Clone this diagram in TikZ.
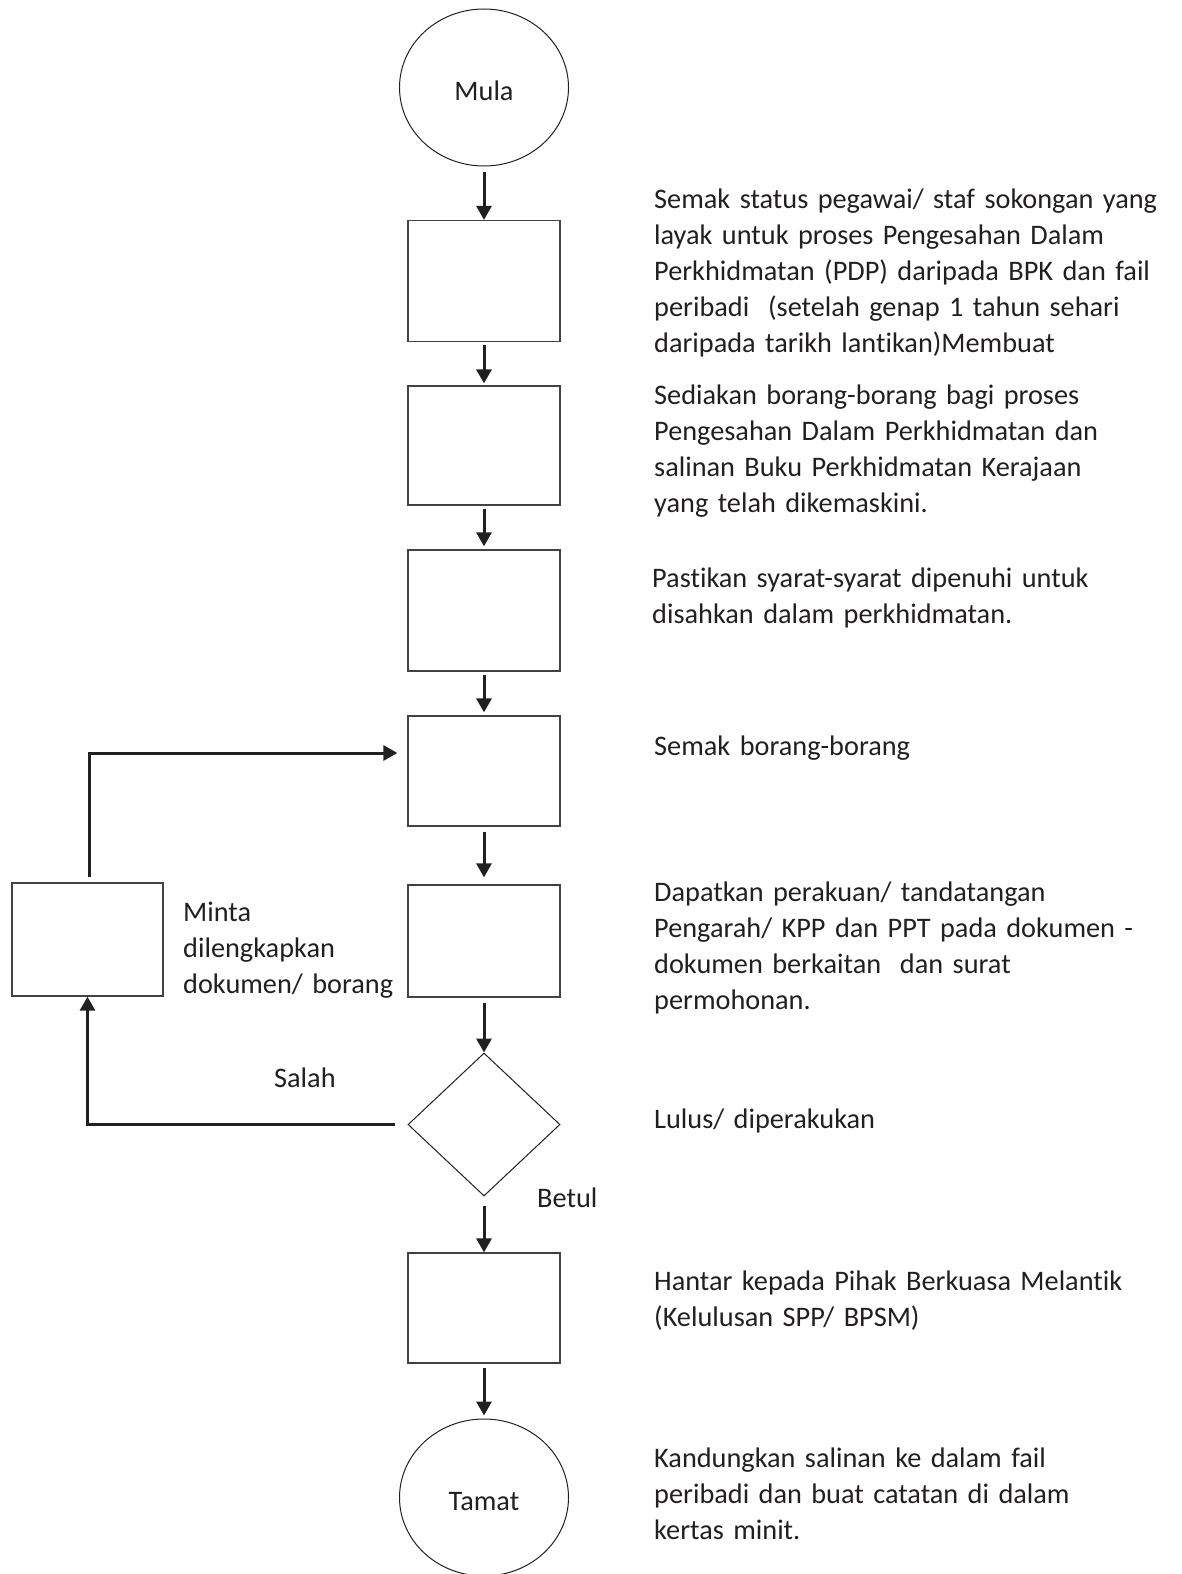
\documentclass[tikz,border=0pt]{standalone}
\usepackage{fontspec}
\setmainfont{Carlito}[Ligatures=CommonOff]
\usetikzlibrary{arrows.meta,shapes.geometric}
\definecolor{ink}{HTML}{231F20}
\begin{document}
\begin{tikzpicture}[x=1pt,y=-1pt,
  every node/.style={text=ink, font=\fontsize{28.3}{36}\selectfont},
  proc/.style={draw=ink!85, line width=1.3pt, minimum width=152pt, inner sep=0pt},
  term/.style={draw=ink, line width=1pt, ellipse, minimum width=169pt, minimum height=157pt, inner sep=0pt, text height=26pt, text depth=0pt},
  dec/.style={draw=ink, line width=1pt, diamond, minimum width=152pt, minimum height=143pt, inner sep=0pt},
  flow/.style={draw=ink, line width=3pt, -{Triangle[length=14pt,width=15pt]}},
  desc/.style={anchor=base west, align=left, text width=540pt, inner sep=0pt}
]
\useasboundingbox (0,0) rectangle (1181,1574);

% main column
\node[term] (mula) at (484,87.5) {Mula};
\node[proc, minimum height=121pt] (b1) at (484,281) {};
\node[proc, minimum height=119pt] (b2) at (484,445.5) {};
\node[proc, minimum height=121pt] (b3) at (484,610.5) {};
\node[proc, minimum height=110pt] (b4) at (484,771) {};
\node[proc, minimum height=112pt] (b5) at (484,941) {};
\node[dec] (dia) at (484,1124.5) {};
\node[proc, minimum height=110pt] (b6) at (484,1308) {};
\node[term] (tamat) at (484,1497.5) {Tamat};

% side box
\node[proc, minimum width=151pt, minimum height=113pt] (side) at (87.5,939.5) {};

% connectors
\draw[flow, shorten <=5pt] (mula) -- (b1);
\draw[flow, shorten <=3pt, shorten >=2pt] (b1) -- (b2);
\draw[flow, shorten <=3pt, shorten >=3pt] (b2) -- (b3);
\draw[flow, shorten <=3pt, shorten >=3pt] (b3) -- (b4);
\draw[flow, shorten <=5pt, shorten >=7pt] (b4) -- (b5);
\draw[flow, shorten <=5pt] (b5) -- (dia);
\draw[flow, shorten <=9pt] (dia) -- (b6);
\draw[flow, shorten <=4pt, shorten >=3pt] (b6) -- (tamat);
\draw[flow, shorten >=10pt] ([xshift=1.5pt,yshift=5pt]side.north) |- ([yshift=18pt]b4.west);
\draw[flow, shorten <=13pt] (dia.west) -| (side.south);

% labels
\node[anchor=base west, align=left, inner sep=0pt, text width=220pt] (minta) at (183,921) {Minta\\dilengkapkan\\dokumen/ borang};
\node[anchor=base west, inner sep=0pt] (salah) at (274,1087) {Salah};
\node[anchor=base west, inner sep=0pt] (betul) at (537,1207) {Betul};

% descriptions
\node[desc] (d1) at (654,208) {Semak status pegawai/ staf sokongan yang\\layak untuk proses Pengesahan Dalam\\Perkhidmatan (PDP) daripada BPK dan fail\\peribadi \ (setelah genap 1 tahun sehari\\daripada tarikh lantikan)Membuat};
\node[desc] (d2) at (654,404) {Sediakan borang-borang bagi proses\\Pengesahan Dalam Perkhidmatan dan\\salinan Buku Perkhidmatan Kerajaan\\yang telah dikemaskini.};
\node[desc] (d3) at (652,587) {Pastikan syarat-syarat dipenuhi untuk\\disahkan dalam perkhidmatan.};
\node[desc] (d4) at (654,755) {Semak borang-borang};
\node[desc] (d5) at (654,901) {Dapatkan perakuan/ tandatangan\\Pengarah/ KPP dan PPT pada dokumen -\\dokumen berkaitan \ dan surat\\permohonan.};
\node[desc] (d6) at (654,1128) {Lulus/ diperakukan};
\node[desc] (d7) at (654,1290) {Hantar kepada Pihak Berkuasa Melantik\\(Kelulusan SPP/ BPSM)};
\node[desc] (d8) at (654,1467) {Kandungkan salinan ke dalam fail\\peribadi dan buat catatan di dalam\\kertas minit.};
\end{tikzpicture}
\end{document}
